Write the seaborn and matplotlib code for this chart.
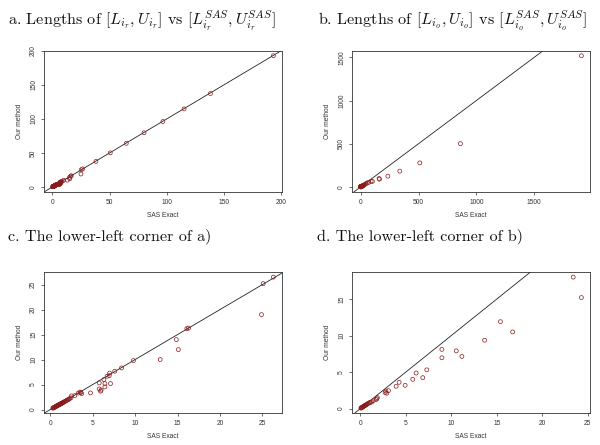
import numpy as np
import pandas as pd
import matplotlib
matplotlib.use("Agg")
import matplotlib.pyplot as plt
import seaborn as sns

# ---- data: a) / c) lengths of [L_ir, U_ir] vs SAS exact ----
ir_sas = [0.3, 0.35, 0.4, 0.45, 0.5, 0.55, 0.6, 0.65, 0.7, 0.75, 0.8, 0.85, 0.9, 0.95,
          1.0, 1.05, 1.1, 1.15, 1.2, 1.25, 1.3, 1.35, 1.4, 1.45, 1.5, 1.6, 1.7, 1.8,
          1.9, 2.0, 2.1, 2.2, 2.3, 2.45, 2.5, 2.9, 3.3, 3.5, 3.7, 3.6,
          4.74, 5.77, 5.77, 5.93, 6.0, 6.32, 6.44, 6.44, 6.7, 6.96, 7.0, 7.1, 7.6, 8.4,
          9.8, 12.96, 14.86, 15.1, 16.1, 16.3, 24.9, 25.1, 26.3,
          38.0, 50.5, 64.5, 80.0, 96.5, 115.0, 138.0, 193.0]
ir_our = [0.28, 0.33, 0.37, 0.42, 0.46, 0.52, 0.55, 0.6, 0.66, 0.7, 0.74, 0.8, 0.84, 0.9,
          0.93, 0.98, 1.02, 1.08, 1.12, 1.16, 1.22, 1.25, 1.3, 1.36, 1.4, 1.5, 1.58, 1.7,
          1.78, 1.9, 1.96, 2.1, 2.2, 2.35, 2.75, 2.8, 3.3, 3.5, 3.2, 3.4,
          3.33, 5.33, 4.13, 3.67, 3.9, 6.0, 5.2, 4.53, 6.67, 6.8, 7.3, 5.2, 7.67, 8.33,
          9.8, 10.0, 14.0, 12.0, 16.2, 16.3, 19.0, 25.2, 26.5,
          37.5, 50.0, 64.0, 79.5, 96.0, 114.5, 137.0, 192.5]

# ---- data: b) / d) lengths of [L_io, U_io] vs SAS exact ----
io_sas = [0.05, 0.1, 0.15, 0.2, 0.25, 0.3, 0.35, 0.4, 0.45, 0.5, 0.55, 0.6, 0.7, 0.8,
          0.88, 1.0, 1.1, 1.25, 1.4, 1.73, 1.87, 1.8, 2.72, 2.9, 3.08, 2.8, 3.93, 4.26,
          4.92, 5.76, 6.13, 6.86, 7.3, 8.96, 8.96, 10.54, 11.16, 13.66, 15.4, 16.74,
          23.4, 24.3,
          35, 45, 55, 70, 89, 100, 158, 161, 234, 337, 510, 862, 1909]
io_our = [0.05, 0.09, 0.13, 0.17, 0.21, 0.26, 0.3, 0.33, 0.38, 0.4, 0.45, 0.5, 0.56, 0.64,
          0.73, 0.8, 0.85, 0.9, 1.05, 1.23, 1.5, 1.35, 2.18, 2.1, 2.45, 2.4, 3.05, 3.59,
          3.18, 4.0, 4.86, 4.23, 5.3, 8.1, 6.95, 7.9, 7.14, 9.36, 11.9, 10.5,
          18.0, 15.2,
          28, 36, 46, 52, 65, 62, 96, 88, 123, 181, 277, 500, 1519]

titles = [
    r"a. Lengths of $[L_{i_r},U_{i_r}]$ vs $[L^{SAS}_{i_r},U^{SAS}_{i_r}]$",
    r"b. Lengths of $[L_{i_o},U_{i_o}]$ vs $[L^{SAS}_{i_o},U^{SAS}_{i_o}]$",
    "c. The lower-left corner of a)",
    "d. The lower-left corner of b)",
]
x_label = "SAS Exact"
y_label = "Our method"

df_ir = pd.DataFrame({"sas": ir_sas, "our": ir_our})
df_io = pd.DataFrame({"sas": io_sas, "our": io_our})

sns.set_style("white")
plt.rcParams["mathtext.fontset"] = "cm"
plt.rcParams["font.family"] = ["Liberation Sans", "DejaVu Sans"]

fig = plt.figure(figsize=(6.0, 4.45), dpi=100)

W = 0.397
H = 0.318
axes_pos = [
    (0.0733, 0.5685), (0.5867, 0.5685),
    (0.0733, 0.0710), (0.5867, 0.0710),
]
title_pos = [(0.013, 0.982), (0.530, 0.982), (0.013, 0.487), (0.528, 0.487)]

panels = [
    (df_ir, None, [0, 50, 100, 150, 200], [0, 50, 100, 150, 200]),
    (df_io, None, [0, 500, 1000, 1500], [0, 500, 1000, 1500]),
    (df_ir, 27.0, [0, 5, 10, 15, 20, 25], [0, 5, 10, 15, 20, 25]),
    (df_io, 25.0, [0, 5, 10, 15, 20, 25], [0, 5, 10, 15]),
]

marker_col = "#8B1A1A"

def rlim(v):
    lo, hi = float(np.min(v)), float(np.max(v))
    r = hi - lo
    return lo - 0.04 * r, hi + 0.04 * r

for i, ((df, cut, xt, yt), (l, b)) in enumerate(zip(panels, axes_pos)):
    ax = fig.add_axes([l, b, W, H])
    sub = df if cut is None else df[df["sas"] <= cut]
    sns.scatterplot(data=df, x="sas", y="our", ax=ax, marker="o", s=8,
                    facecolor="none", edgecolor=marker_col, linewidth=0.5,
                    clip_on=True, zorder=3)
    ax.axline((0, 0), slope=1, color="#222222", lw=0.6, zorder=2)
    ax.set_xlim(*rlim(sub["sas"]))
    ax.set_ylim(*rlim(sub["our"]))
    ax.set_xticks(xt)
    ax.set_yticks(yt)
    ax.set_xticklabels([str(t) for t in xt], fontsize=4.8, color="#333333")
    ax.set_yticklabels([str(t) for t in yt], fontsize=4.8, color="#333333",
                       rotation=90, va="center")
    ax.tick_params(axis="both", direction="out", length=2.5, width=0.5,
                   color="#333333", pad=2.5, bottom=True, left=True)
    ax.set_xlabel(x_label, fontsize=4.8, color="#333333", labelpad=4)
    ax.set_ylabel(y_label, fontsize=4.8, color="#333333", labelpad=5)
    for sp in ax.spines.values():
        sp.set_visible(True)
        sp.set_linewidth(0.6)
        sp.set_color("#333333")
    fig.text(title_pos[i][0], title_pos[i][1], titles[i], fontsize=11.6,
             family="cmr10", ha="left", va="top", color="#111111")

fig.savefig("out.png", dpi=100)
